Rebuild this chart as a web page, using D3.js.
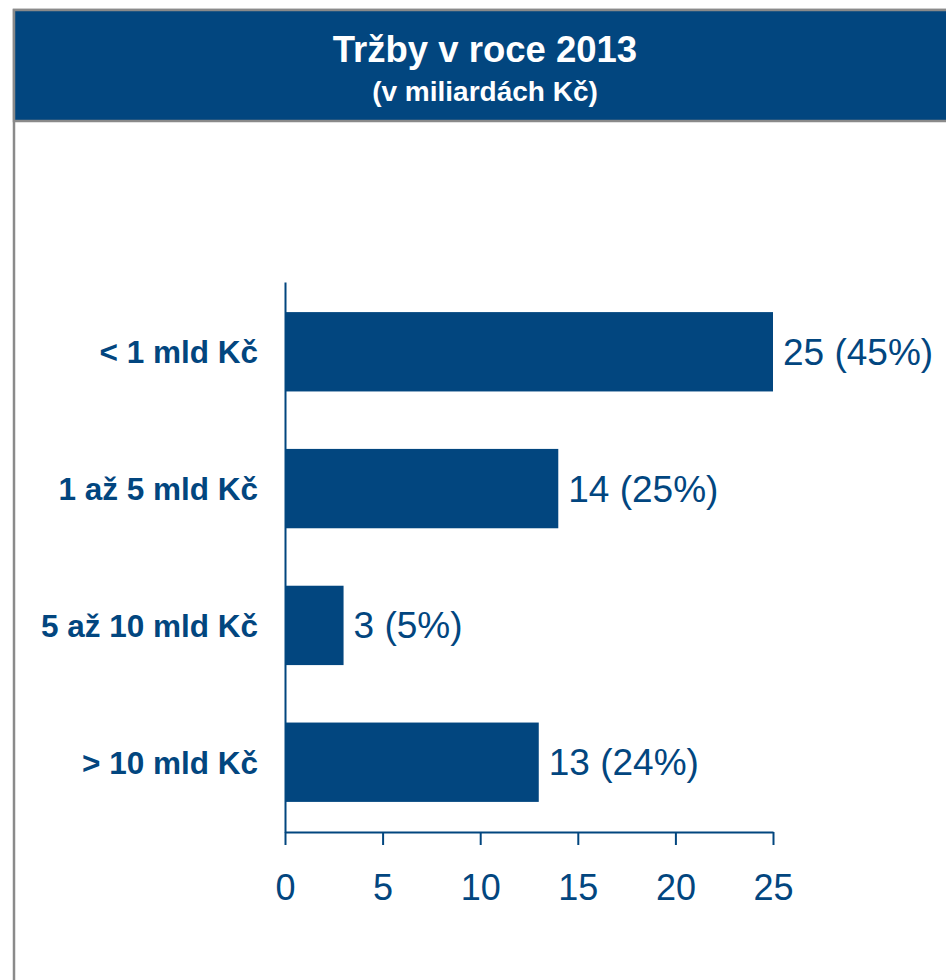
<!DOCTYPE html>
<html lang="cs">
<head>
    <meta charset="UTF-8">
    <title>Tržby v roce 2013</title>
    <script src="https://d3js.org/d3.v7.min.js"></script>
    <style>
        html, body { margin: 0; padding: 0; background: #fff; }
        body { font-family: Arial, "Liberation Sans", sans-serif; }
        svg { display: block; }
    </style>
</head>
<body>
    <div id="chart"></div>
    <script>
        const categories = ["< 1 mld Kč", "1 až 5 mld Kč", "5 až 10 mld Kč", "> 10 mld Kč"];
        const values = [25, 14, 3, 13];
        const shares = ["45%", "25%", "5%", "24%"];
        const xTicks = [0, 5, 10, 15, 20, 25];

        const blue = "#02467f";
        const gray = "#8a8a8a";

        const svg = d3.select("#chart").append("svg")
            .attr("width", 946)
            .attr("height", 980);

        // frame + header band
        svg.append("rect")
            .attr("x", 14).attr("y", 10)
            .attr("width", 1000).attr("height", 1000)
            .attr("fill", "#fff")
            .attr("stroke", gray).attr("stroke-width", 2.5);

        svg.append("rect")
            .attr("x", 14).attr("y", 10)
            .attr("width", 942).attr("height", 111)
            .attr("fill", blue)
            .attr("stroke", gray).attr("stroke-width", 2.5);

        svg.append("text")
            .attr("x", 485).attr("y", 62)
            .attr("text-anchor", "middle")
            .attr("fill", "#fff")
            .attr("font-weight", "bold")
            .attr("font-size", 36.5)
            .text("Tržby v roce 2013");

        svg.append("text")
            .attr("x", 485).attr("y", 101)
            .attr("text-anchor", "middle")
            .attr("fill", "#fff")
            .attr("font-weight", "bold")
            .attr("font-size", 28)
            .text("(v miliardách Kč)");

        const x = d3.scaleLinear().domain([0, 25]).range([285, 773]);
        const y = d3.scaleBand().domain(categories).range([282, 832])
            .paddingInner(0.42).paddingOuter(0.22);

        svg.selectAll("rect.bar")
            .data(categories)
            .join("rect")
            .attr("class", "bar")
            .attr("x", x(0))
            .attr("y", d => y(d))
            .attr("width", (d, i) => x(values[i]) - x(0))
            .attr("height", y.bandwidth())
            .attr("fill", blue);

        svg.selectAll("text.val")
            .data(categories)
            .join("text")
            .attr("class", "val")
            .attr("x", (d, i) => x(values[i]) + 10)
            .attr("y", d => y(d) + y.bandwidth() / 2 + 13)
            .attr("fill", blue)
            .attr("font-size", 37)
            .text((d, i) => `${values[i]} (${shares[i]})`);

        // x axis
        const xAxis = svg.append("g")
            .attr("transform", "translate(0,832)")
            .call(d3.axisBottom(x).tickValues(xTicks).tickSize(13).tickSizeOuter(0).tickPadding(29));
        xAxis.select(".domain").attr("stroke", blue).attr("stroke-width", 2);
        xAxis.selectAll(".tick line").attr("stroke", blue).attr("stroke-width", 2);
        xAxis.selectAll(".tick text")
            .attr("fill", blue)
            .attr("font-size", 36)
            .attr("font-family", "Arial, 'Liberation Sans', sans-serif");

        // y axis
        const yAxis = svg.append("g")
            .attr("transform", `translate(${x(0)},0)`)
            .call(d3.axisLeft(y).tickSize(0).tickPadding(27));
        yAxis.select(".domain").attr("stroke", blue).attr("stroke-width", 2);
        yAxis.selectAll(".tick text")
            .attr("fill", blue)
            .attr("font-size", 31.5)
            .attr("font-weight", "bold")
            .attr("dy", "0.36em")
            .attr("font-family", "Arial, 'Liberation Sans', sans-serif");
    </script>
</body>
</html>
